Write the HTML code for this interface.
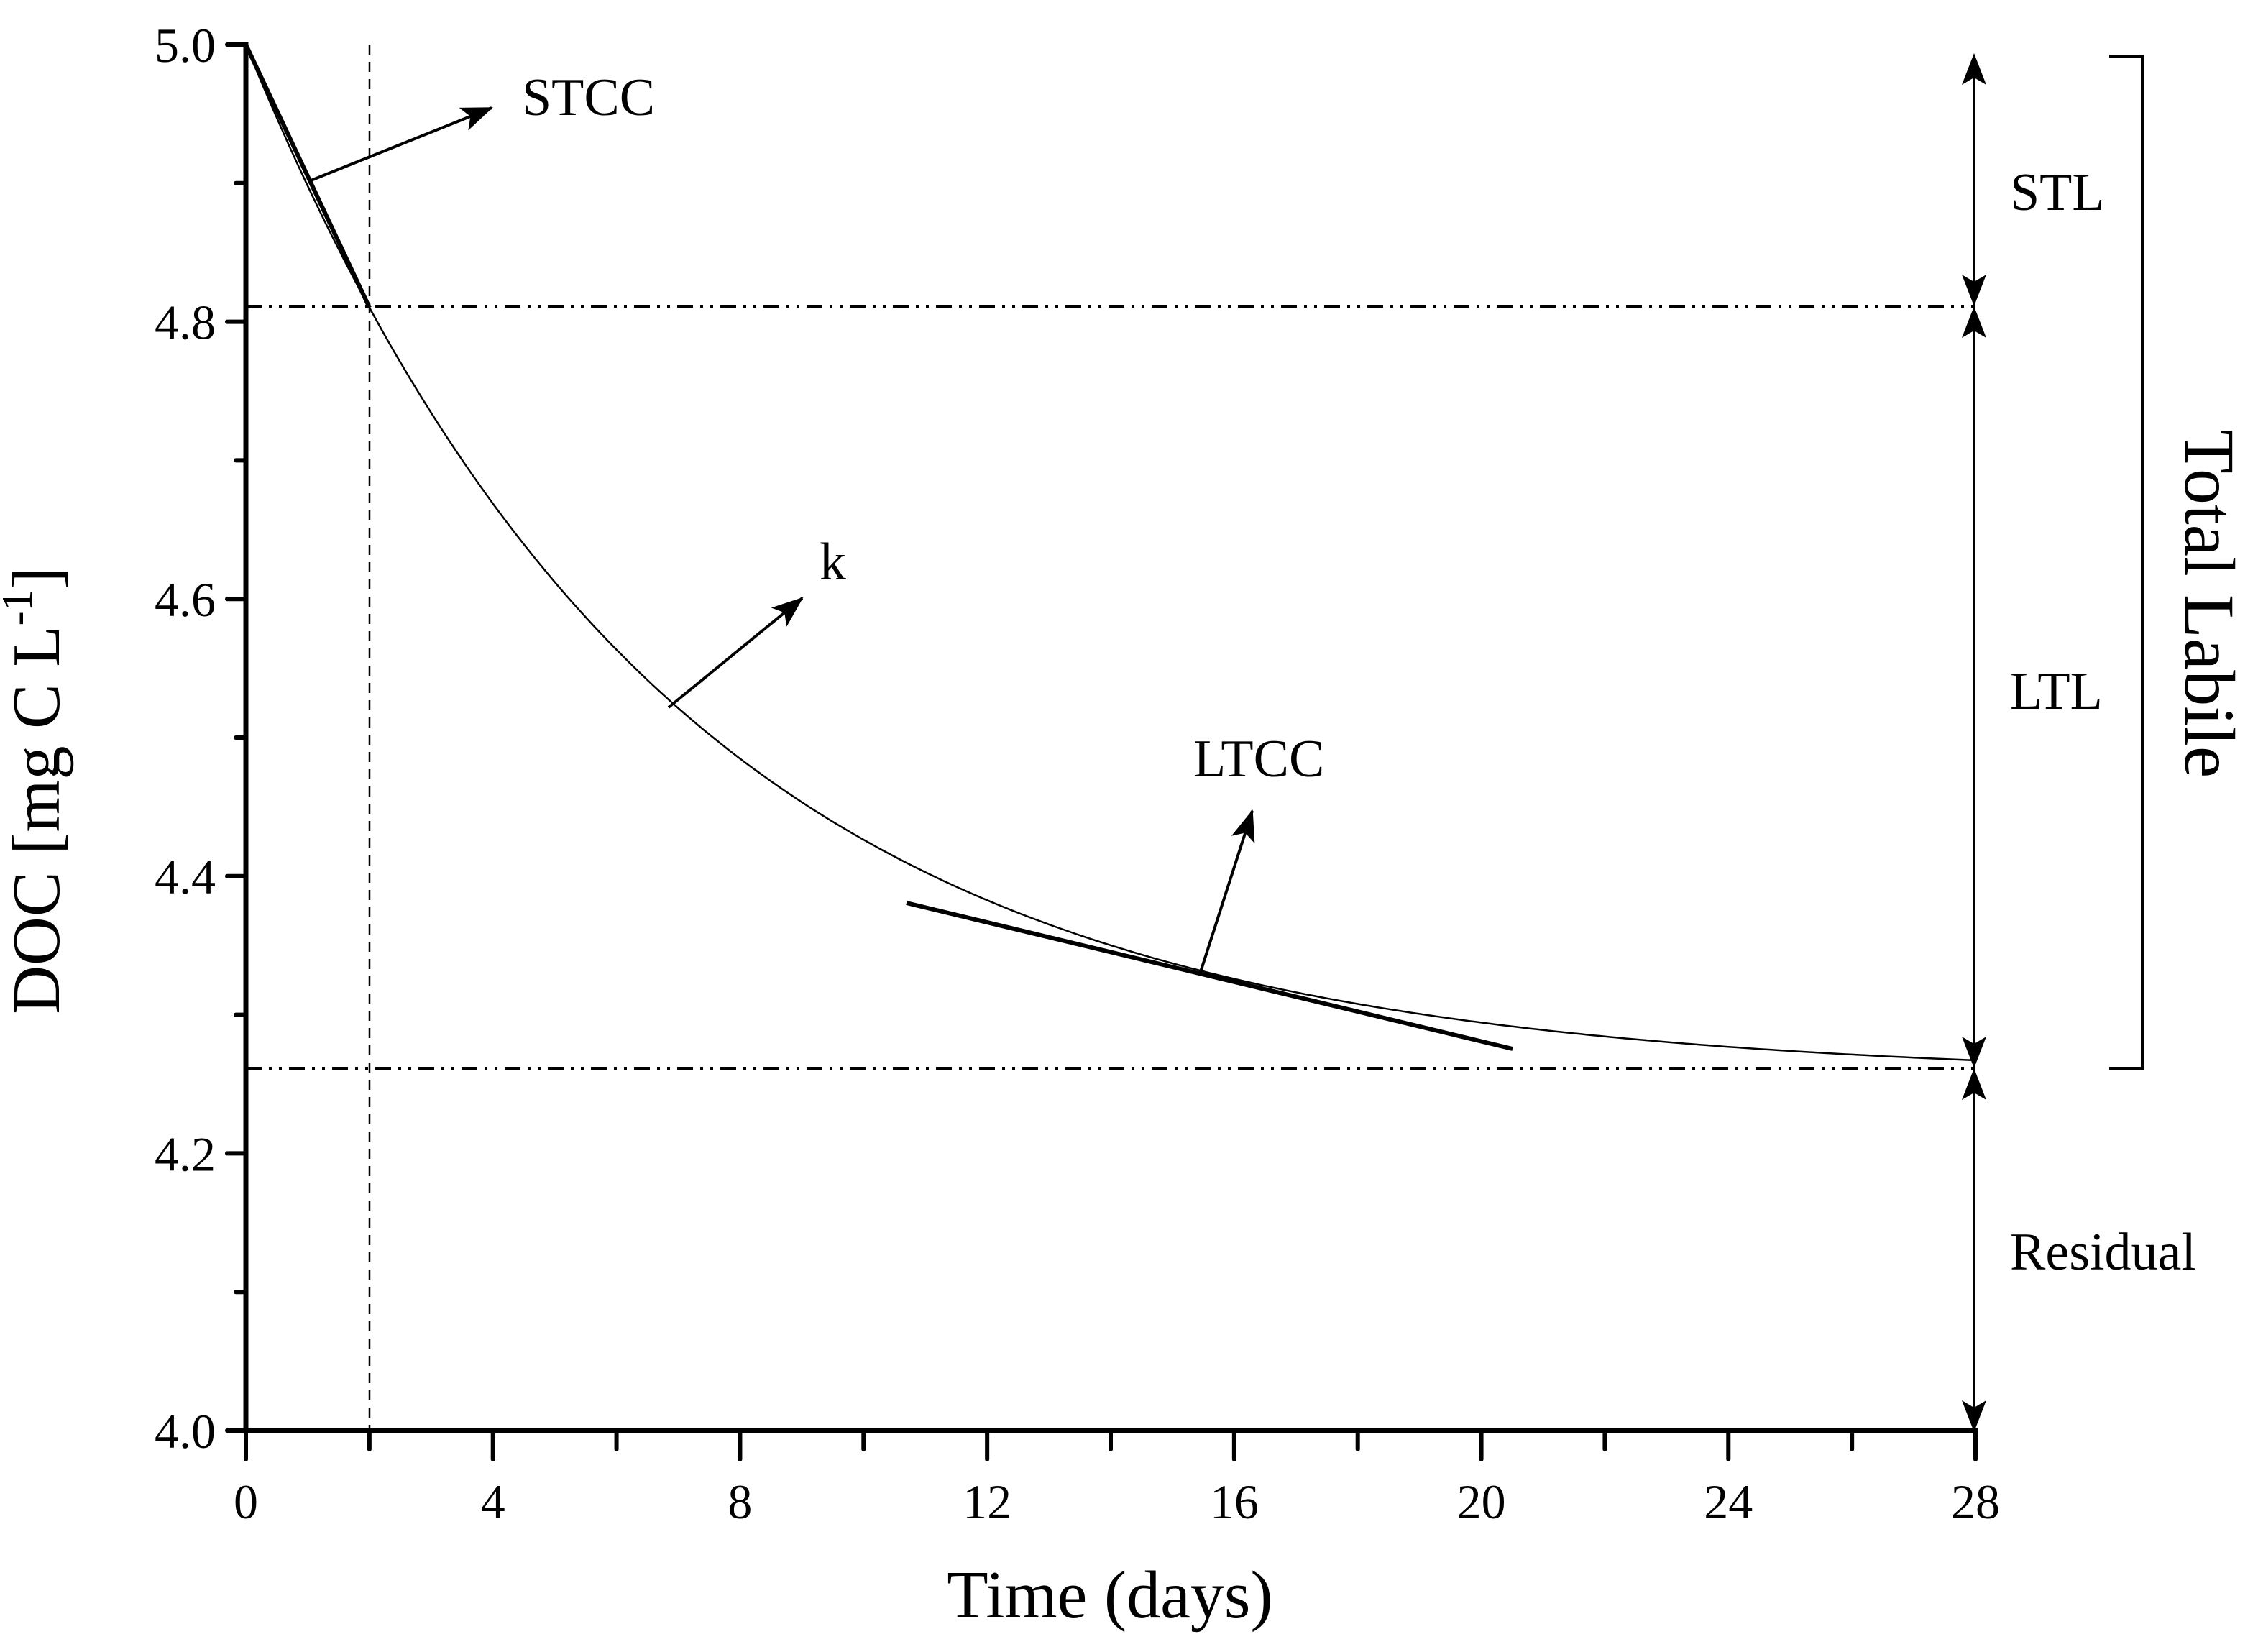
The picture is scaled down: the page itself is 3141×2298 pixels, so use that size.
<!DOCTYPE html>
<html><head><meta charset="utf-8"><style>html,body{margin:0;padding:0;background:#fff}svg{display:block}</style></head>
<body>
<svg width="3141" height="2298" viewBox="0 0 3141 2298" xmlns="http://www.w3.org/2000/svg" font-family="Liberation Serif, serif">
<defs>
<marker id="ah2" viewBox="0 0 44 34" refX="42" refY="17" markerWidth="44" markerHeight="34" markerUnits="userSpaceOnUse" orient="auto-start-reverse">
<path d="M0,0 L44,17 L0,34 L10,17 Z" fill="#000"/>
</marker>
</defs>
<g stroke="#000" fill="none">
<line x1="514" y1="62" x2="514" y2="1990" stroke-width="2.5" stroke-dasharray="14,10"/>
<line x1="342" y1="426" x2="2748" y2="426" stroke-width="4" stroke-dasharray="22,10,4,10,4,10"/>
<line x1="342" y1="1486" x2="2748" y2="1486" stroke-width="4" stroke-dasharray="22,10,4,10,4,10"/>
<path id="curve" stroke-width="2.5" d=""/>
<line x1="342" y1="62" x2="514" y2="428" stroke-width="6"/>
<line x1="1261" y1="1256" x2="2104" y2="1459" stroke-width="6"/>
<line x1="342" y1="59" x2="342" y2="1993" stroke-width="7"/>
<line x1="316" y1="1990" x2="2751" y2="1990" stroke-width="7"/>
<line x1="430" y1="252" x2="684" y2="150" stroke-width="4" marker-end="url(#ah2)"/>
<line x1="930" y1="984" x2="1116" y2="832" stroke-width="4" marker-end="url(#ah2)"/>
<line x1="1670" y1="1352" x2="1742" y2="1128" stroke-width="4" marker-end="url(#ah2)"/>
<line x1="2746" y1="76" x2="2746" y2="424" stroke-width="4" marker-start="url(#ah2)" marker-end="url(#ah2)"/>
<line x1="2746" y1="428" x2="2746" y2="1484" stroke-width="4" marker-start="url(#ah2)" marker-end="url(#ah2)"/>
<line x1="2746" y1="1488" x2="2746" y2="1990" stroke-width="4" marker-start="url(#ah2)" marker-end="url(#ah2)"/>
<polyline points="2934,78 2980,78 2980,1486 2934,1486" stroke-width="4"/>
</g>
<g id="ticks" stroke="#000" stroke-width="6" stroke-linecap="round"></g>
<g font-size="68" fill="#000">
<g text-anchor="end" id="ylab"></g>
<g text-anchor="middle" id="xlab"></g>
</g>
<g fill="#000" font-size="74">
<text x="726" y="160">STCC</text>
<text x="1140" y="806">k</text>
<text x="1660" y="1080">LTCC</text>
<text x="2796" y="292">STL</text>
<text x="2796" y="986">LTL</text>
<text x="2796" y="1766">Residual</text>
</g>
<text x="1544" y="2250" font-size="94" text-anchor="middle">Time (days)</text>
<text transform="translate(82,1100) rotate(-90)" font-size="94" text-anchor="middle">DOC [mg C L<tspan font-size="60" dy="-38">-1</tspan><tspan dy="38">]</tspan></text>
<text transform="translate(3040,840) rotate(90)" font-size="100" text-anchor="middle">Total Labile</text>
<script>
(function(){
var X=function(t){return 342+t*(2406/28)};var Y=function(v){return 62+(5-v)*1928};
var d="";for(var i=0;i<=280;i++){var t=i/10;var v=4.255+0.745*Math.exp(-0.147*t);d+=(i?"L":"M")+X(t).toFixed(1)+","+Y(v).toFixed(1);}
document.getElementById("curve").setAttribute("d",d);
var NS="http://www.w3.org/2000/svg";var g=document.getElementById("ticks");
function ln(a,b,c,e){var l=document.createElementNS(NS,"line");l.setAttribute("x1",a);l.setAttribute("y1",b);l.setAttribute("x2",c);l.setAttribute("y2",e);g.appendChild(l);}
function tx(id,x,y,s){var t=document.createElementNS(NS,"text");t.setAttribute("x",x);t.setAttribute("y",y);t.textContent=s;document.getElementById(id).appendChild(t);}
for(var k=0;k<=10;k++){var y=Y(5-k*0.1);var maj=k%2==0;ln(342,y,maj?316:328,y);if(maj)tx("ylab",300,y+24,(5-k*0.1).toFixed(1));}
for(var k=0;k<=14;k++){var x=X(k*2);var maj=k%2==0;ln(x,1990,x,maj?2030:2016);if(maj)tx("xlab",x,2112,String(k*2));}
})();
</script>
</svg>
</body></html>
